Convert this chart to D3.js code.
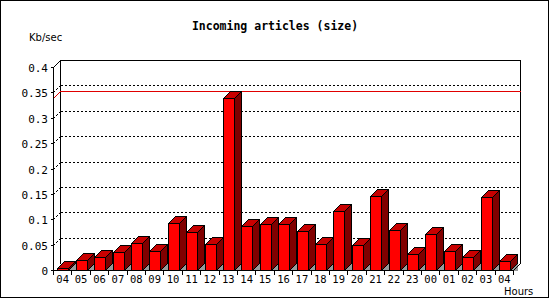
<!DOCTYPE html>
<html><head><meta charset="utf-8">
<script src="https://cdn.jsdelivr.net/npm/d3@7"></script>
<style>body{margin:0;background:#fff}svg{display:block}</style>
</head><body>
<script>
const hours = ["04","05","06","07","08","09","10","11","12","13","14","15","16","17","18","19","20","21","22","23","00","01","02","03","04"];
const values = [0.003,0.020,0.025,0.035,0.053,0.037,0.092,0.074,0.051,0.338,0.086,0.091,0.091,0.076,0.051,0.116,0.049,0.146,0.078,0.031,0.070,0.037,0.025,0.144,0.018];
const yTicks = [0,0.05,0.1,0.15,0.2,0.25,0.3,0.35,0.4];
const yTickLabels = ["0","0.05","0.1","0.15","0.2","0.25","0.3","0.35","0.4"];
const title = "Incoming articles (size)";
const yTitle = "Kb/sec";
const xTitle = "Hours";

const W = 550, H = 300;
const DX = 7, DY = 7;
const svg = d3.select("body").append("svg").attr("width", W).attr("height", H)
  .attr("shape-rendering", "crispEdges");

const x = d3.scaleBand().domain(d3.range(hours.length)).range([53, 513]).padding(0);
const y = d3.scaleLinear().domain([0, 0.4]).range([270, 67]);
const bw = x.bandwidth();

// frame
svg.append("rect").attr("x", 0.5).attr("y", 0.5).attr("width", 548).attr("height", 297)
  .attr("fill", "none").attr("stroke", "#000");

const L = (x1, y1, x2, y2, col, dash) => svg.append("line")
  .attr("x1", x1).attr("y1", y1).attr("x2", x2).attr("y2", y2)
  .attr("stroke", col || "#000").attr("stroke-width", 1)
  .attr("stroke-dasharray", dash || null);

const xl = x.range()[0] + 0.5, xr = x.range()[1] + 0.5;
const y0 = y(0) + 0.5, yTop = y(0.4) + 0.5;

// back wall outline
L(xl + DX, yTop - DY, xr + DX, yTop - DY);
L(xl + DX, yTop - DY, xl + DX, y0 - DY);
L(xr + DX, yTop - DY, xr + DX, y0 - DY);
L(xl, yTop, xl + DX, yTop - DY);

// grid lines (dotted)
yTicks.filter(t => t > 0 && t < 0.4).forEach(t => {
  const yy = Math.round(y(t)) + 0.5;
  L(xl + DX, yy - DY, xr + DX, yy - DY, "#000", "2,2");
  L(xl, yy, xl + DX, yy - DY, "#000", "2,2");
});

// max line (red)
const vmax = d3.max(values);
const ym = Math.round(y(vmax)) + 0.5;
L(xl, ym, xl + DX, ym - DY, "#e00000");
L(xl + DX, ym - DY, xr + DX, ym - DY, "#e00000");

// front y axis
L(xl, yTop, xl, y0);

// bars
const g = svg.append("g");
values.forEach((v, i) => {
  const fx0 = Math.round(x(i) + bw * 0.235) + 0.5;
  const fx1 = fx0 + Math.round(bw * 0.6);
  const ft = Math.round(y(v)) + 0.5;
  const fb = y0;
  // floor shadow
  g.append("path").attr("d", `M${fx1},${fb}L${fx1 + DX},${fb - DY}L${fx1 + DX},${fb}Z`)
    .attr("fill", "#999").attr("stroke", "none");
  // side
  g.append("path").attr("d", `M${fx1},${fb}L${fx1 + DX},${fb - DY}L${fx1 + DX},${ft - DY}L${fx1},${ft}Z`)
    .attr("fill", "#800000").attr("stroke", "#000");
  // top
  g.append("path").attr("d", `M${fx0},${ft}L${fx0 + DX},${ft - DY}L${fx1 + DX},${ft - DY}L${fx1},${ft}Z`)
    .attr("fill", "#c80000").attr("stroke", "#000");
  // front
  g.append("rect").attr("x", fx0).attr("y", ft).attr("width", fx1 - fx0).attr("height", fb - ft)
    .attr("fill", "#ff0000").attr("stroke", "#000");
});

// baseline & floor right edge
L(xl, y0, xr, y0);
L(xr, y0, xr + DX, y0 - DY);

// y ticks and labels
yTicks.forEach((t, i) => {
  const yy = Math.round(y(t)) + 0.5;
  L(xl - 3, yy, xl, yy);
  svg.append("text").attr("x", 48).attr("y", yy + 4).attr("text-anchor", "end")
    .attr("font-family", "DejaVu Sans Mono").attr("font-size", "11px").attr("fill", "#000")
    .text(yTickLabels[i]);
});

// x ticks and labels
d3.range(hours.length + 1).forEach(i => {
  const xx = Math.round(x.range()[0] + i * bw) + 0.5;
  L(xx, y0, xx, y0 + 4);
});
hours.forEach((h, i) => {
  svg.append("text").attr("x", x(i) + bw / 2 + 0.5).attr("y", 283).attr("text-anchor", "middle")
    .attr("font-family", "DejaVu Sans Mono").attr("font-size", "10.5px").attr("fill", "#000")
    .text(h);
});

// titles
svg.append("text").attr("x", 275).attr("y", 30).attr("text-anchor", "middle")
  .attr("font-family", "DejaVu Sans Mono").attr("font-weight", "bold").attr("font-size", "11.5px")
  .text(title);
svg.append("text").attr("x", 29).attr("y", 41)
  .attr("font-family", "DejaVu Sans").attr("font-size", "10px").text(yTitle);
svg.append("text").attr("x", 504).attr("y", 295)
  .attr("font-family", "DejaVu Sans").attr("font-size", "10px").text(xTitle);
</script>
</body></html>
